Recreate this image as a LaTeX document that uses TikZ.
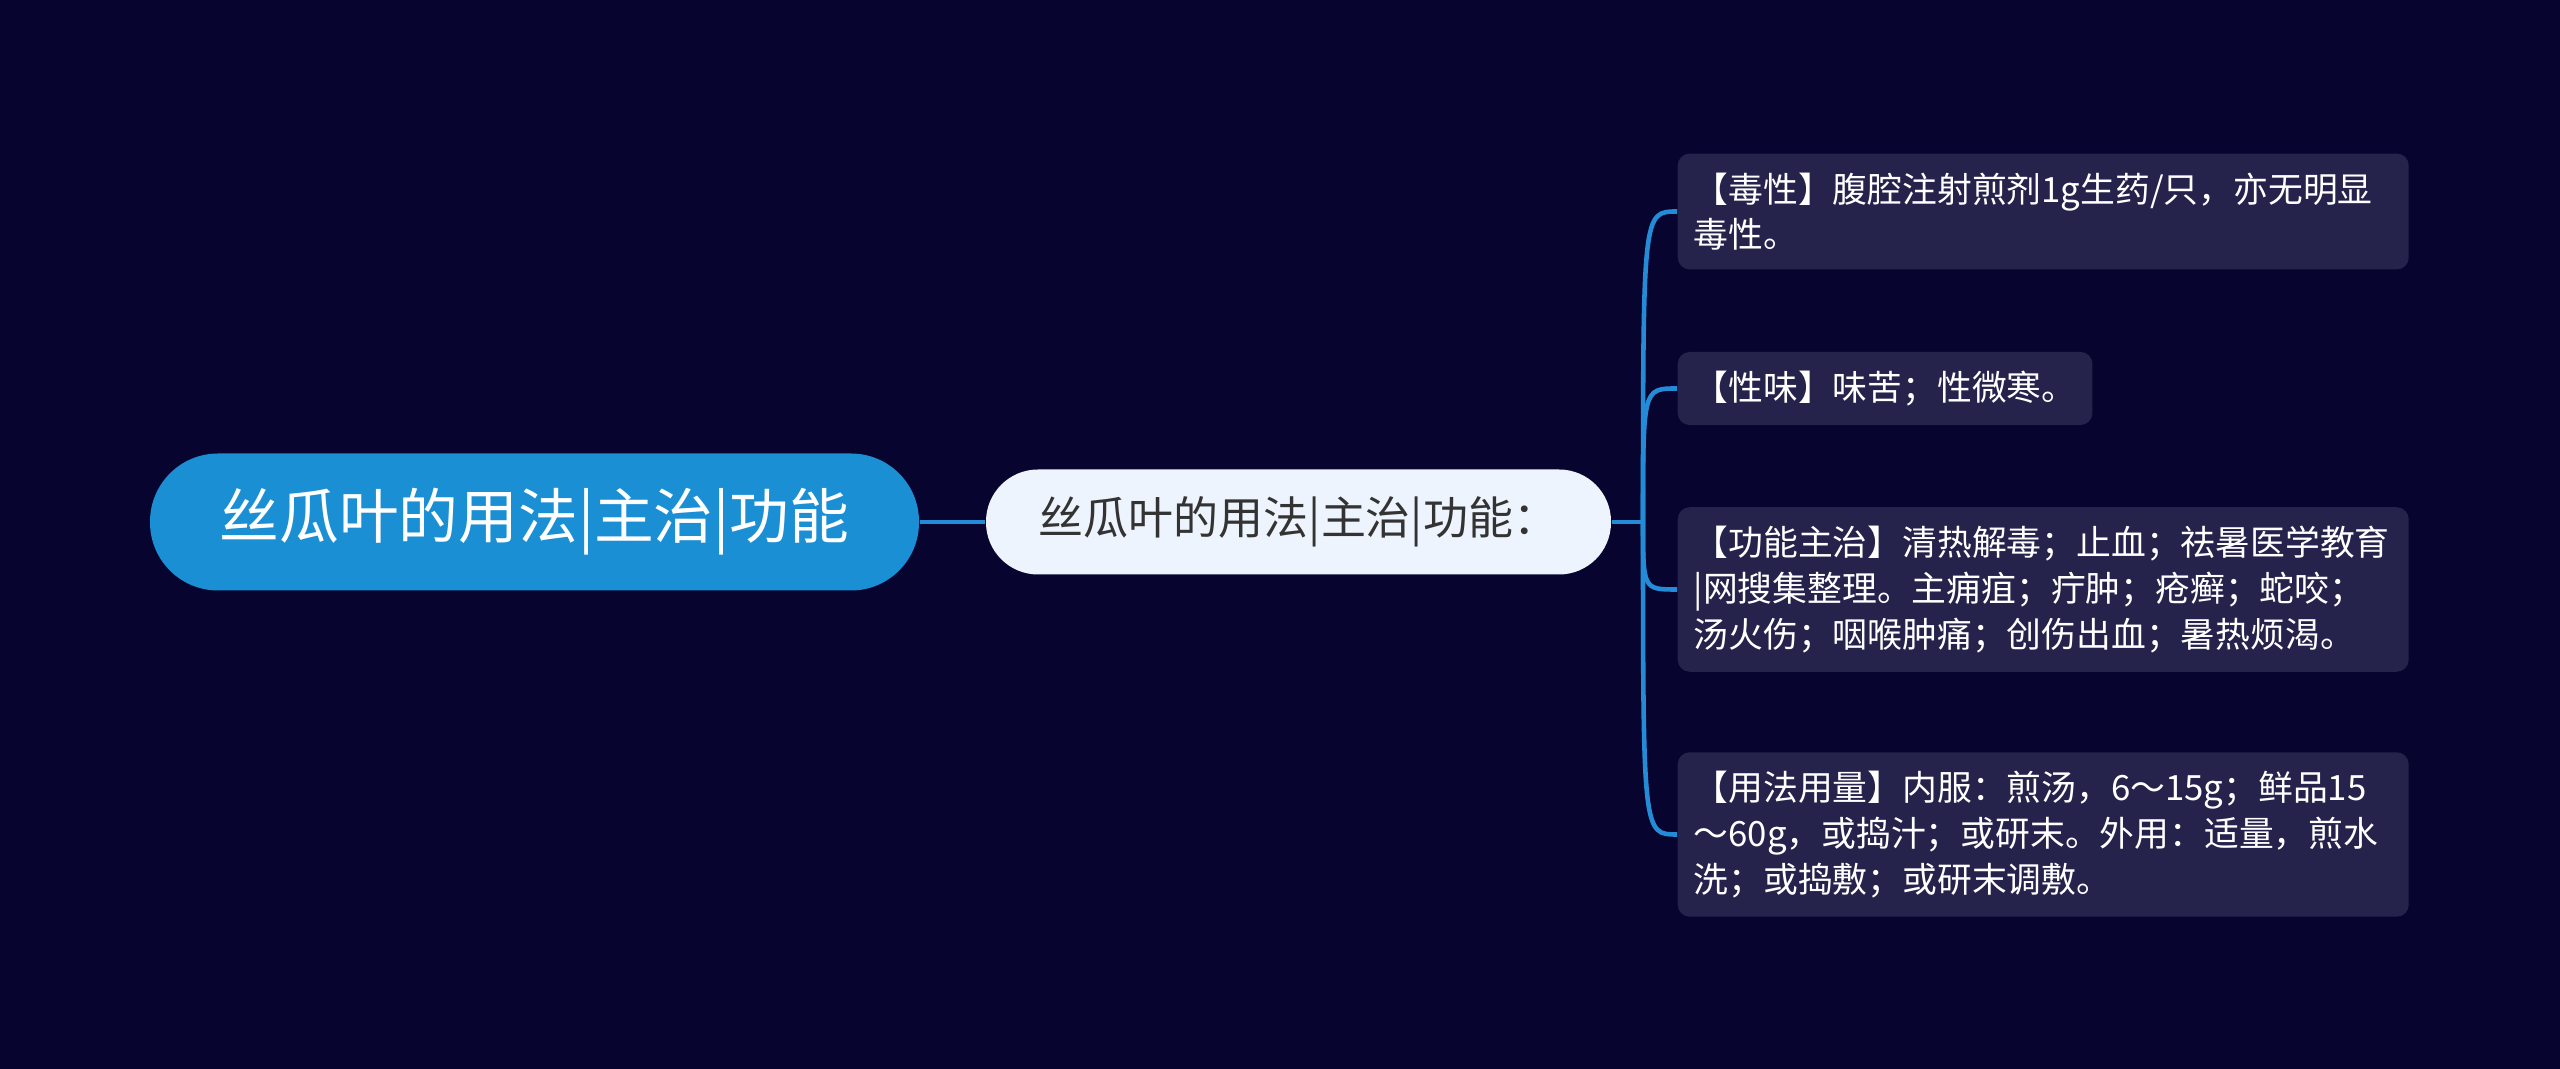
\documentclass[tikz,border=0pt]{standalone}
\usepackage{fontspec}
\setmainfont{Noto Sans CJK SC}
\definecolor{bgblue}{RGB}{8,4,48}
\definecolor{rootblue}{RGB}{26,143,212}
\definecolor{midfill}{RGB}{238,244,253}
\definecolor{midtext}{RGB}{51,51,51}
\definecolor{leaffill}{RGB}{37,34,76}
\definecolor{linkblue}{RGB}{36,140,214}

\begin{document}
\begin{tikzpicture}[
    every node/.style = {inner sep = 0pt},
    root/.style = {fill = rootblue, text = white, rounded corners = 0.68cm,
        minimum width = 7.69cm, minimum height = 1.37cm,
        font = \fontsize{17pt}{20pt}\selectfont},
    sub/.style = {fill = midfill, text = midtext, rounded corners = 0.52cm,
        minimum width = 6.25cm, minimum height = 1.05cm,
        font = \fontsize{12.8pt}{15pt}\selectfont},
    leaf/.style = {fill = leaffill, text = white, rounded corners = 0.12cm,
        anchor = west, align = left, inner xsep = 0.16cm, inner ysep = 0.19cm,
        font = \fontsize{9.9pt}{13pt}\selectfont},
    link/.style = {draw = linkblue, line width = 1.3pt}]

\fill[bgblue] (0,0) rectangle (25.6,-10.69);

\node[root] (A) at (5.345,-5.22) {丝瓜叶的用法|主治|功能};
\node[sub]  (B) at (12.985,-5.22) {丝瓜叶的用法|主治|功能：};
\coordinate (J) at (16.43,-5.22);

\node[leaf, text width = 6.99cm] (C) at (16.77,-2.115)
    {【毒性】腹腔注射煎剂1g生药/只，亦无明显\\毒性。};
\node[leaf] (D) at (16.77,-3.885) {【性味】味苦；性微寒。};
\node[leaf, text width = 6.99cm] (E) at (16.77,-5.895)
    {【功能主治】清热解毒；止血；祛暑医学教育\\|网搜集整理。主痈疽；疔肿；疮癣；蛇咬；\\汤火伤；咽喉肿痛；创伤出血；暑热烦渴。};
\node[leaf, text width = 6.99cm] (F) at (16.77,-8.345)
    {【用法用量】内服：煎汤，6～15g；鲜品15\\～60g，或捣汁；或研末。外用：适量，煎水\\洗；或捣敷；或研末调敷。};

\draw[link] (A) -- (B);
\draw[link] (B) -- (J);
\draw[link] (J) .. controls (J |- C.west) and (J |- C.west) .. (C.west);
\draw[link] (J) .. controls (J |- D.west) and (J |- D.west) .. (D.west);
\draw[link] (J) .. controls (J |- E.west) and (J |- E.west) .. (E.west);
\draw[link] (J) .. controls (J |- F.west) and (J |- F.west) .. (F.west);

\end{tikzpicture}
\end{document}
